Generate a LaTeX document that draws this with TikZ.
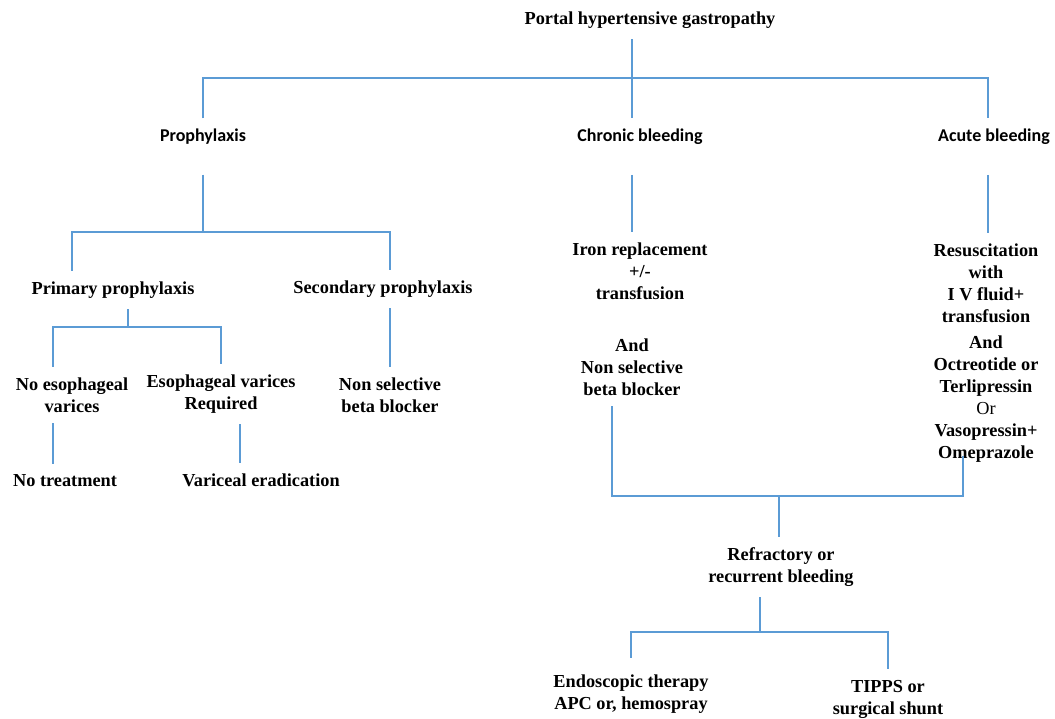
\documentclass[tikz,border=0pt]{standalone}
\usepackage{fontspec}
\setmainfont{Liberation Serif}
\newfontfamily\calibfont{Carlito}
\usetikzlibrary{calc}
\definecolor{linkblue}{RGB}{91,155,213}

\begin{document}
\begin{tikzpicture}[x=1pt, y=-1pt,
  txt/.style={font=\fontsize{18.3}{22}\selectfont\bfseries, align=center, inner sep=0pt, outer sep=11pt},
  hdr/.style={txt, font=\fontsize{18}{22}\selectfont\calibfont\bfseries},
  link/.style={draw=linkblue, line width=1.3pt}]
\useasboundingbox (0,0) rectangle (1055,718);

\node[txt] (A) at (650,20) {Portal hypertensive gastropathy};
\node[hdr] (B) at (203,137) {Prophylaxis};
\node[hdr] (C) at (640,137) {Chronic bleeding};
\node[hdr] (D) at (994,137) {Acute bleeding};

\node[txt] (E) at (113,290) {Primary prophylaxis};
\node[txt] (F) at (383,289) {Secondary prophylaxis};
\node[txt] (G) at (72,395) {No esophageal\\varices};
\node[txt] (H) at (221,394) {Esophageal varices\\Required};
\node[txt] (I) at (390,395) {Non selective\\beta blocker};
\node[txt] (J) at (65,481) {No treatment};
\node[txt] (K) at (261,480) {Variceal eradication};

\node[txt] (L) at (640,271) {Iron replacement\\+/-\\transfusion};
\node[txt] (M) at (632,367) {And\\Non selective\\beta blocker};
\node[txt] (N) at (986,283) {Resuscitation\\with\\I V fluid+\\transfusion};
\node[txt] (O) at (986,399) {And\\Octreotide or\\Terlipressin\\{\mdseries Or}\\Vasopressin+\\Omeprazole};

\node[txt] (P) at (781,567) {Refractory or\\recurrent bleeding};
\node[txt] (Q) at (631,694) {Endoscopic therapy\\APC or, hemospray};
\node[txt] (R) at (888,699) {TIPPS or\\surgical shunt};

\coordinate (X1) at (632,78);
\coordinate (X2) at (203,232);
\coordinate (X3) at (128,327);
\coordinate (X4) at (779,496);
\coordinate (X5) at (760,632);

% top level
\draw[link] (A.south -| X1) -- (C.north -| X1);
\draw[link] (B.north) |- (X1) -| ([xshift=-6pt]D.north);

% prophylaxis
\draw[link, shorten <=19pt] (B.south) -- (X2);
\draw[link] ([xshift=-41pt]E.north) |- (X2) -| ([xshift=7pt]F.north);
\draw[link] (E.south -| X3) -- (X3);
\draw[link] ([xshift=-19pt]G.north) |- (X3) -| (H.north);
\draw[link] (F.south -| I.north) -- (I.north);
\draw[link] ([xshift=-19pt]G.south) -- ([xshift=-19pt]G.south |- J.north);
\draw[link] ([xshift=19pt]H.south) -- ([xshift=19pt]H.south |- K.north);

% bleeding
\draw[link, shorten <=19pt] (C.south -| X1) -- (L.north -| X1);
\draw[link, shorten <=19pt] ([xshift=-6pt]D.south) -- ([xshift=-6pt]D.south |- N.north);
\draw[link, shorten >=-17pt] ([xshift=-20pt]M.south) |- (X4) -| ([xshift=-23pt]O.south);
\draw[link] (X4) -- (P.north -| X4);
\draw[link] (P.south -| X5) -- (X5);
\draw[link, shorten <=6pt] (Q.north) |- (X5) -| (R.north);

\end{tikzpicture}
\end{document}
